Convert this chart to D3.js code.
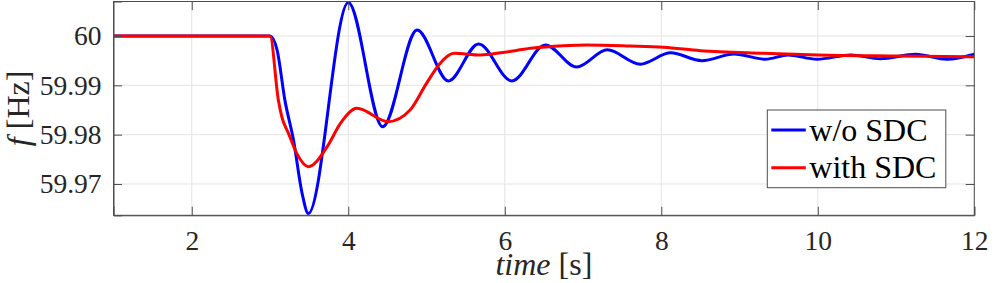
<!DOCTYPE html>
<html>
<head>
<meta charset="utf-8">
<script src="https://cdn.jsdelivr.net/npm/d3@7"></script>
<style>
  html, body { margin: 0; padding: 0; background: #fff; }
  svg { display: block; }
</style>
</head>
<body>
<svg id="chart"></svg>
<script>
const outerWidth = 997;
const outerHeight = 283;
const margin = { top: 1.5, right: 22.7, bottom: 67.7, left: 113.5 };
const width = outerWidth - margin.left - margin.right;
const height = outerHeight - margin.top - margin.bottom;
const serif = "Liberation Serif";

// values
const xTicks = [2, 4, 6, 8, 10, 12];
const yTicks = [59.97, 59.98, 59.99, 60];
const xDomain = [1, 12];
const yDomain = [59.96365, 60.0070];
const seriesNames = ["w/o SDC", "with SDC"];
const seriesColors = ["#0000ff", "#ff0000"];

const timeNoSdc = [1, 3.0, 3.09, 3.19, 3.30, 3.41, 3.49, 4.0, 4.44, 4.88, 5.28, 5.665, 6.09, 6.52, 6.92,
    7.31, 7.73, 8.12, 8.52, 8.93, 9.33, 9.62, 9.99, 10.42, 10.8, 11.25, 11.65, 12];
const freqNoSdc = [60, 60, 59.9972, 59.9870, 59.9789, 59.9681, 59.9640, 60.0068, 59.9816, 60.0012, 59.9909,
    59.9984, 59.9909, 59.9982, 59.9937, 59.9972, 59.9943, 59.9966, 59.9950, 59.99635, 59.9953, 59.99615,
    59.9953, 59.99615, 59.9954, 59.9963, 59.9953, 59.9963];

const timeSdc = [1, 3.0, 3.107, 3.151, 3.235, 3.342, 3.49, 3.73, 3.90, 4.11, 4.51, 4.79, 5.0, 5.175, 5.35,
    5.69, 5.95, 6.33, 6.75, 7.05, 7.6, 8.03, 8.5, 9.3, 10.0, 11.06, 12];
const freqSdc = [60, 60, 59.9870, 59.9836, 59.9803, 59.9762, 59.9735, 59.97756, 59.9823, 59.98534, 59.98263,
    59.9850, 59.9904, 59.9945, 59.99649, 59.99615, 59.9966, 59.99751, 59.99803, 59.99818, 59.99797,
    59.99771, 59.99702, 59.99649, 59.99615, 59.99595, 59.9958];

const series = [
    { name: seriesNames[0], color: seriesColors[0], values: timeNoSdc.map((t, i) => ({ t, f: freqNoSdc[i] })) },
    { name: seriesNames[1], color: seriesColors[1], values: timeSdc.map((t, i) => ({ t, f: freqSdc[i] })) }
];

const axisColor = "#4d4d4d";
const gridColor = "#e4e4e4";
const textColor = "#262626";
const tickLen = 8.6;

const chartSvg = d3.select("#chart")
    .attr("width", outerWidth)
    .attr("height", outerHeight);

const svg = chartSvg.append("g")
    .attr("transform", `translate(${margin.left},${margin.top})`);

const x = d3.scaleLinear().domain(xDomain).range([0, width]);
const y = d3.scaleLinear().domain(yDomain).range([height, 0]);

// grid
svg.append("g").selectAll("line")
    .data(xTicks).enter().append("line")
    .attr("x1", d => x(d)).attr("x2", d => x(d))
    .attr("y1", 0).attr("y2", height)
    .attr("stroke", gridColor).attr("stroke-width", 1);

svg.append("g").selectAll("line")
    .data(yTicks).enter().append("line")
    .attr("x1", 0).attr("x2", width)
    .attr("y1", d => y(d)).attr("y2", d => y(d))
    .attr("stroke", gridColor).attr("stroke-width", 1);

// lines
const line = d3.line()
    .x(d => x(d.t))
    .y(d => y(d.f))
    .curve(d3.curveMonotoneX);

svg.append("defs").append("clipPath").attr("id", "plot-clip")
    .append("rect").attr("x", 0).attr("y", -2).attr("width", width).attr("height", height + 2);

svg.append("g").attr("clip-path", "url(#plot-clip)")
    .selectAll("path")
    .data(series).enter().append("path")
    .attr("fill", "none")
    .attr("stroke", d => d.color)
    .attr("stroke-width", 3)
    .attr("stroke-linejoin", "round")
    .attr("d", d => line(d.values));

// axes with inward ticks on all four sides
const tickFmt = d => String(+d.toFixed(2));

const bottomAxis = svg.append("g")
    .attr("transform", `translate(0,${height})`)
    .call(d3.axisBottom(x).tickValues(xTicks).tickSize(-tickLen).tickPadding(15).tickFormat(tickFmt));

const topAxis = svg.append("g")
    .call(d3.axisTop(x).tickValues(xTicks).tickSize(-tickLen).tickFormat(""));

const leftAxis = svg.append("g")
    .call(d3.axisLeft(y).tickValues(yTicks).tickSize(-tickLen).tickPadding(12).tickFormat(tickFmt));

const rightAxis = svg.append("g")
    .attr("transform", `translate(${width},0)`)
    .call(d3.axisRight(y).tickValues(yTicks).tickSize(-tickLen).tickFormat(""));

[bottomAxis, topAxis, leftAxis, rightAxis].forEach(g => {
    g.attr("font-family", serif).attr("font-size", 27.5);
    g.select(".domain").attr("stroke", axisColor);
    g.selectAll(".tick line").attr("stroke", axisColor);
    g.selectAll(".tick text")
        .attr("fill", textColor)
        .attr("font-family", serif)
        .attr("font-size", 27.5);
});
[topAxis, rightAxis].forEach(g => g.select(".domain").attr("d", null));

// box frame
svg.append("rect")
    .attr("x", 0).attr("y", 0)
    .attr("width", width).attr("height", height)
    .attr("fill", "none")
    .attr("stroke", axisColor)
    .attr("stroke-width", 1);

// axis labels
const xLabel = svg.append("text")
    .attr("x", width / 2)
    .attr("y", height + 60)
    .attr("text-anchor", "middle")
    .attr("fill", textColor)
    .attr("font-family", serif)
    .attr("font-size", 32);
xLabel.append("tspan").attr("font-style", "italic").text("time");
xLabel.append("tspan").text(" [s]");

const yLabel = svg.append("text")
    .attr("transform", `translate(${29 - margin.left},${height / 2}) rotate(-90)`)
    .attr("text-anchor", "middle")
    .attr("fill", textColor)
    .attr("font-family", serif)
    .attr("font-size", 32);
yLabel.append("tspan").attr("font-style", "italic").text("f");
yLabel.append("tspan").text(" [Hz]");

// legend
const legend = svg.append("g")
    .attr("transform", `translate(${767.3 - margin.left},${110 - margin.top})`);

legend.append("rect")
    .attr("width", 178.5)
    .attr("height", 77.7)
    .attr("fill", "#fff")
    .attr("stroke", axisColor)
    .attr("stroke-width", 1);

const legendRows = legend.selectAll(".row")
    .data(series).enter().append("g")
    .attr("class", "row")
    .attr("transform", (d, i) => `translate(0,${20 + i * 37.7})`);

legendRows.append("line")
    .attr("x1", 4).attr("x2", 38.5)
    .attr("y1", 0).attr("y2", 0)
    .attr("stroke", d => d.color)
    .attr("stroke-width", 3);

legendRows.append("text")
    .attr("x", 42)
    .attr("y", 10.5)
    .attr("fill", "#000")
    .attr("font-family", serif)
    .attr("font-size", 32)
    .text(d => d.name);
</script>
</body>
</html>
